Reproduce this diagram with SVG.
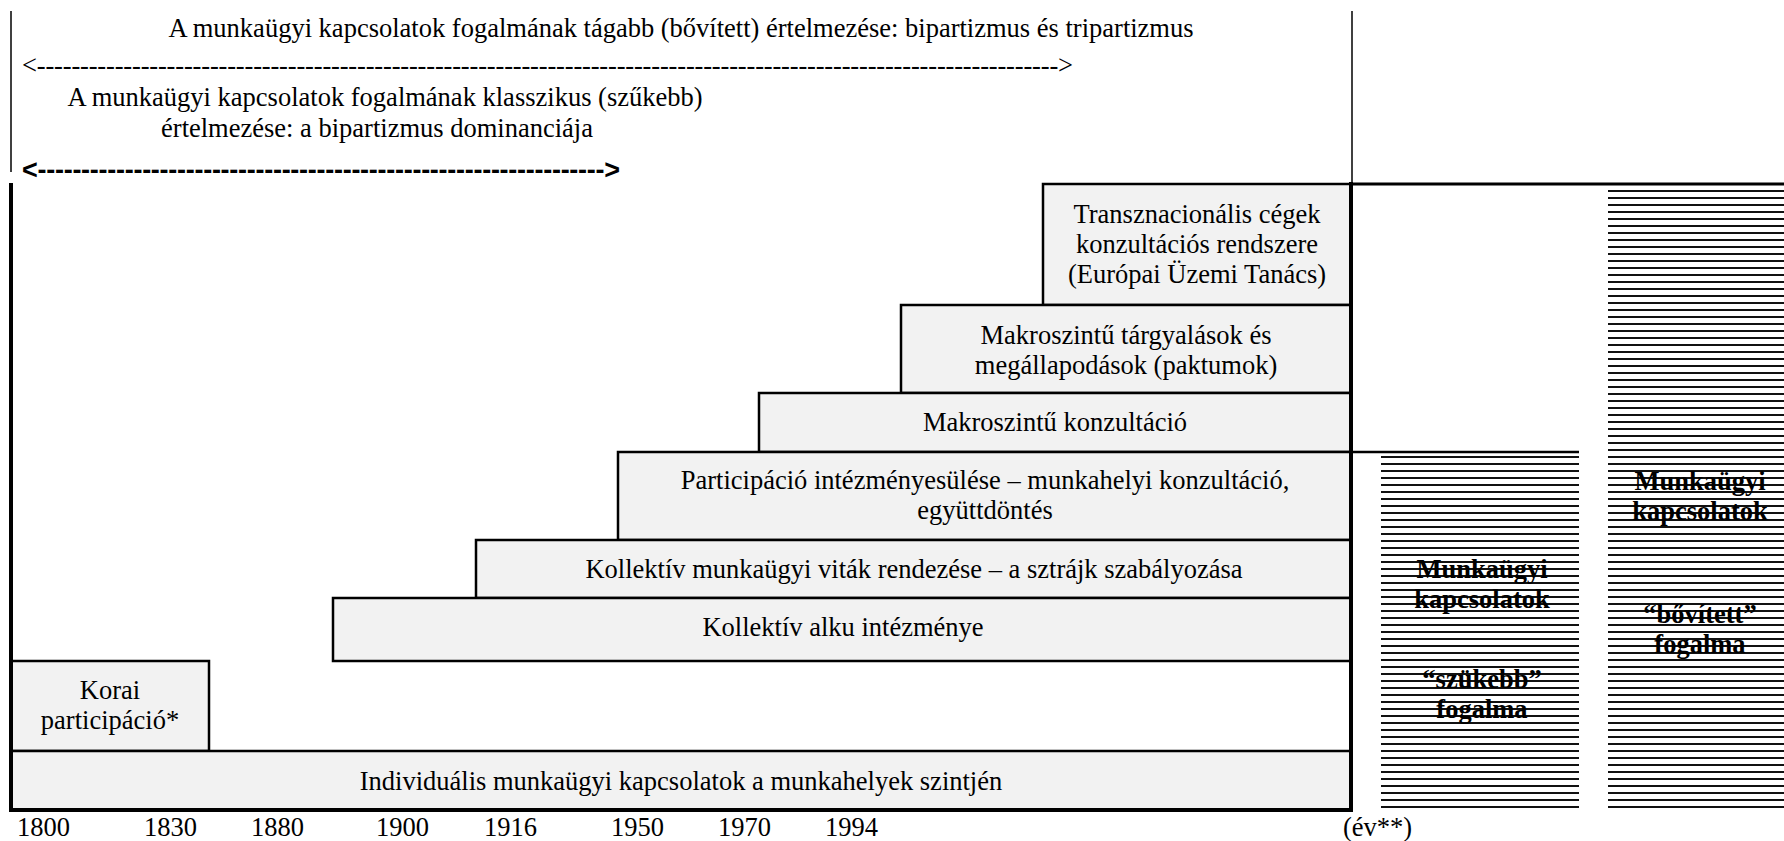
<svg xmlns="http://www.w3.org/2000/svg" width="1784" height="841" viewBox="0 0 1784 841">
<style>
.t{font-family:"Liberation Serif","Times New Roman",serif;font-size:26.5px;fill:#000}
.s{font-family:"Liberation Sans",Arial,sans-serif;font-size:27px;font-weight:bold;fill:#000}
.c{text-anchor:middle}
.b{font-weight:bold}
.box{fill:#f2f2f2;stroke:#000;stroke-width:2.5}
.frame{stroke:#000;fill:none}
</style>
<defs>
<pattern id="hatch" patternUnits="userSpaceOnUse" x="0" y="1" width="20" height="7">
<rect x="0" y="0" width="20" height="2" fill="#111"/>
</pattern>
</defs>
<rect width="1784" height="841" fill="#fff"/>

<g id="header">
<text class="t c" x="681" y="37">A munkaügyi kapcsolatok fogalmának tágabb (bővített) értelmezése: bipartizmus és tripartizmus</text>
<text class="t" x="22" y="74" textLength="1051" lengthAdjust="spacing">&lt;----------------------------------------------------------------------------------------------------------------------&gt;</text>
<text class="t c" x="385" y="106">A munkaügyi kapcsolatok fogalmának klasszikus (szűkebb)</text>
<text class="t c" x="377" y="137">értelmezése: a bipartizmus dominanciája</text>
<text class="s" x="22" y="179" textLength="598" lengthAdjust="spacing">&lt;-----------------------------------------------------------------&gt;</text>
</g>

<g id="connectors">
<line class="frame" x1="11" y1="11" x2="11" y2="172" stroke-width="1.5"/>
<line class="frame" x1="1352" y1="11" x2="1352" y2="184" stroke-width="1.5"/>
<line class="frame" x1="1351" y1="184" x2="1784" y2="184" stroke-width="3"/>
</g>

<g id="node-transznacionalis">
<rect class="box" x="1043" y="184" width="308" height="121"/>
<text class="t c" x="1197" y="223">Transznacionális cégek</text>
<text class="t c" x="1197" y="253">konzultációs rendszere</text>
<text class="t c" x="1197" y="283">(Európai Üzemi Tanács)</text>
</g>
<g id="node-makro-targyalas">
<rect class="box" x="901" y="305" width="450" height="88"/>
<text class="t c" x="1126" y="344">Makroszintű tárgyalások és</text>
<text class="t c" x="1126" y="374">megállapodások (paktumok)</text>
</g>
<g id="node-makro-konzultacio">
<rect class="box" x="759" y="393" width="592" height="59"/>
<text class="t c" x="1055" y="431">Makroszintű konzultáció</text>
</g>
<g id="node-participacio">
<rect class="box" x="618" y="452" width="733" height="88"/>
<text class="t c" x="985" y="489">Participáció intézményesülése – munkahelyi konzultáció,</text>
<text class="t c" x="985" y="519">együttdöntés</text>
</g>
<g id="node-vitak">
<rect class="box" x="476" y="540" width="875" height="58"/>
<text class="t c" x="914" y="578">Kollektív munkaügyi viták rendezése – a sztrájk szabályozása</text>
</g>
<g id="node-alku">
<rect class="box" x="333" y="598" width="1018" height="63"/>
<text class="t c" x="843" y="636">Kollektív alku intézménye</text>
</g>
<g id="node-korai">
<rect class="box" x="11" y="661" width="198" height="90"/>
<text class="t c" x="110" y="699">Korai</text>
<text class="t c" x="110" y="729">participáció*</text>
</g>
<g id="node-individualis">
<rect class="box" x="11" y="751" width="1340" height="59"/>
<text class="t c" x="681" y="790">Individuális munkaügyi kapcsolatok a munkahelyek szintjén</text>
</g>

<g id="frame">
<line class="frame" x1="11" y1="183" x2="11" y2="812" stroke-width="4"/>
<line class="frame" x1="9" y1="810" x2="1353" y2="810" stroke-width="4"/>
<line class="frame" x1="1351" y1="182" x2="1351" y2="812" stroke-width="4"/>
<line class="frame" x1="1351" y1="452" x2="1579" y2="452" stroke-width="2.5"/>
</g>

<g id="node-szukebb">
<rect x="1381" y="455" width="198" height="354" fill="url(#hatch)"/>
<text class="t c b" x="1482" y="578">Munkaügyi</text>
<text class="t c b" x="1482" y="608">kapcsolatok</text>
<text class="t c b" x="1482" y="688">“szükebb”</text>
<text class="t c b" x="1482" y="718">fogalma</text>
</g>
<g id="node-bovitett">
<rect x="1608" y="190" width="176" height="619" fill="url(#hatch)"/>
<text class="t c b" x="1700" y="490">Munkaügyi</text>
<text class="t c b" x="1700" y="520">kapcsolatok</text>
<text class="t c b" x="1700" y="623">“bővített”</text>
<text class="t c b" x="1700" y="653">fogalma</text>
</g>

<g id="axis">
<text class="t" x="17" y="836">1800</text>
<text class="t" x="144" y="836">1830</text>
<text class="t" x="251" y="836">1880</text>
<text class="t" x="376" y="836">1900</text>
<text class="t" x="484" y="836">1916</text>
<text class="t" x="611" y="836">1950</text>
<text class="t" x="718" y="836">1970</text>
<text class="t" x="825" y="836">1994</text>
<text class="t" x="1343" y="836">(év**)</text>
</g>
</svg>
